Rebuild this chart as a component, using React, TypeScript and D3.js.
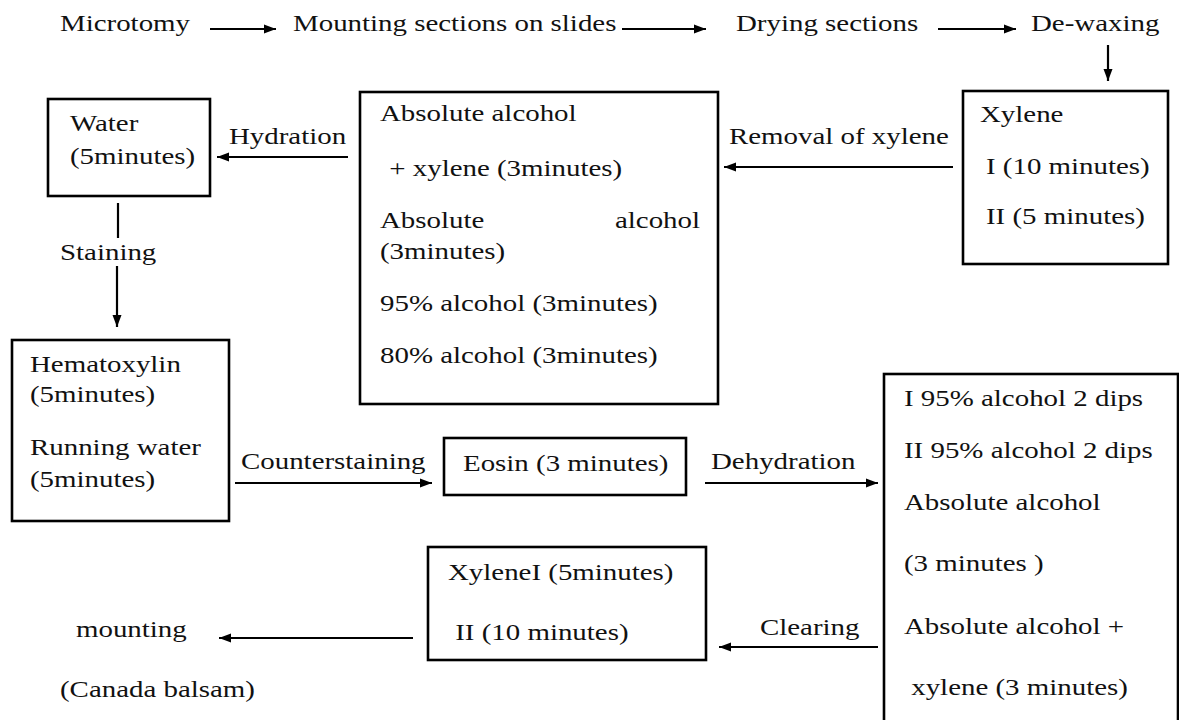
import React, { useEffect, useRef } from "react";
import * as d3 from "d3";

// ---- content (text only) ----
const topSteps = ["Microtomy", "Mounting sections on slides", "Drying sections", "De-waxing"];
const xyleneLines = ["Xylene", "I (10 minutes)", "II (5 minutes)"];
const rehydrationLines = ["Absolute alcohol", " + xylene (3minutes)", "Absolute|alcohol", "(3minutes)", "95% alcohol (3minutes)", "80% alcohol (3minutes)"];
const waterLines = ["Water", "(5minutes)"];
const stainLines = ["Hematoxylin", "(5minutes)", "Running water", "(5minutes)"];
const eosinLines = ["Eosin (3 minutes)"];
const dehydrationLines = ["I 95% alcohol 2 dips", "II 95% alcohol 2 dips", "Absolute alcohol", "(3 minutes )", "Absolute alcohol +", " xylene (3 minutes)"];
const clearingLines = ["XyleneI (5minutes)", " II (10 minutes)"];
const mountLines = ["mounting", "(Canada balsam)"];
const edgeLabels = ["Removal of xylene", "Hydration", "Staining", "Counterstaining", "Dehydration", "Clearing"];

const W = 1179;
const H = 720;
const FONT = "'Liberation Serif', 'Times New Roman', serif";
const FS = 23.5;
const SX = 1.23;

export default function App() {
  const ref = useRef<SVGSVGElement>(null);

  useEffect(() => {
    const svg = d3.select(ref.current);
    svg.selectAll("*").remove();
    svg.append("rect").attr("width", W).attr("height", H).attr("fill", "#fff");

    const defs = svg.append("defs");
    defs
      .append("marker")
      .attr("id", "ah")
      .attr("viewBox", "0 0 12 10")
      .attr("refX", 12)
      .attr("refY", 5)
      .attr("markerUnits", "userSpaceOnUse")
      .attr("markerWidth", 12)
      .attr("markerHeight", 10)
      .attr("orient", "auto")
      .append("path")
      .attr("d", "M0,0.5 L12,5 L0,9.5 Z")
      .attr("fill", "#000");

    const g = svg.append("g");

    const text = (s: string, x: number, y: number, anchor = "start") => {
      g.append("text")
        .attr("transform", `translate(${x},${y}) scale(${SX},1)`)
        .attr("font-family", FONT)
        .attr("font-size", FS)
        .attr("fill", "#111")
        .attr("text-anchor", anchor)
        .attr("xml:space", "preserve")
        .style("white-space", "pre")
        .text(s);
    };
    const box = (x0: number, y0: number, x1: number, y1: number) => {
      g.append("rect")
        .attr("x", x0)
        .attr("y", y0)
        .attr("width", x1 - x0)
        .attr("height", y1 - y0)
        .attr("fill", "none")
        .attr("stroke", "#000")
        .attr("stroke-width", 2.6);
    };
    const line = d3.line<[number, number]>();
    const arrow = (pts: [number, number][], head = true) => {
      const p = g
        .append("path")
        .attr("d", line(pts))
        .attr("fill", "none")
        .attr("stroke", "#000")
        .attr("stroke-width", 2.2);
      if (head) p.attr("marker-end", "url(#ah)");
    };
    const lines = (arr: string[], x: number, ys: number[]) => {
      arr.forEach((s, i) => text(s, x, ys[i]));
    };

    // top row
    const topX = [60, 293, 736, 1031];
    topSteps.forEach((s, i) => text(s, topX[i], 31));
    arrow([[210, 29], [276, 29]]);
    arrow([[622, 29], [706, 29]]);
    arrow([[938, 29], [1016, 29]]);
    arrow([[1108, 45], [1108, 81]]);

    // xylene box
    box(963, 91, 1168, 264);
    text(xyleneLines[0], 980, 122);
    text(xyleneLines[1], 986, 174);
    text(xyleneLines[2], 986, 224);

    // removal of xylene
    text(edgeLabels[0], 729, 144);
    arrow([[953, 167], [724, 167]]);

    // rehydration box
    box(360, 92, 718, 404);
    const rY = [121, 176, 228, 259, 311, 363];
    rehydrationLines.forEach((s, i) => {
      if (s.includes("|")) {
        const [a, b] = s.split("|");
        text(a, 380, rY[i]);
        text(b, 700, rY[i], "end");
      } else {
        text(s, i === 1 ? 382 : 380, rY[i]);
      }
    });

    // hydration
    text(edgeLabels[1], 229, 144);
    arrow([[348, 157], [217, 157]]);

    // water box
    box(48, 99, 210, 196);
    lines(waterLines, 70, [131, 164]);

    // staining
    arrow([[118, 203], [118, 238]], false);
    text(edgeLabels[2], 60, 260);
    arrow([[117, 266], [117, 327]]);

    // hematoxylin box
    box(12, 340, 229, 521);
    lines(stainLines, 30, [372, 402, 455, 487]);

    // counterstaining
    text(edgeLabels[3], 241, 469);
    arrow([[235, 483], [432, 483]]);

    // eosin box
    box(444, 438, 686, 495);
    text(eosinLines[0], 463, 471);

    // dehydration
    text(edgeLabels[4], 711, 469);
    arrow([[705, 483], [878, 483]]);

    // dehydration box
    box(884, 374, 1178, 740);
    lines(dehydrationLines, 904, [406, 458, 510, 571, 634, 695]);

    // clearing
    text(edgeLabels[5], 760, 635);
    arrow([[878, 647], [719, 647]]);

    // clearing box
    box(428, 547, 706, 660);
    lines(clearingLines, 448, [580, 640]);

    // mounting
    arrow([[413, 638], [219, 638]]);
    text(mountLines[0], 76, 637);
    text(mountLines[1], 60, 697);
  }, []);

  return (
    <svg
      ref={ref}
      width={W}
      height={H}
      style={{ position: "absolute", left: 0, top: 0, display: "block" }}
    />
  );
}
